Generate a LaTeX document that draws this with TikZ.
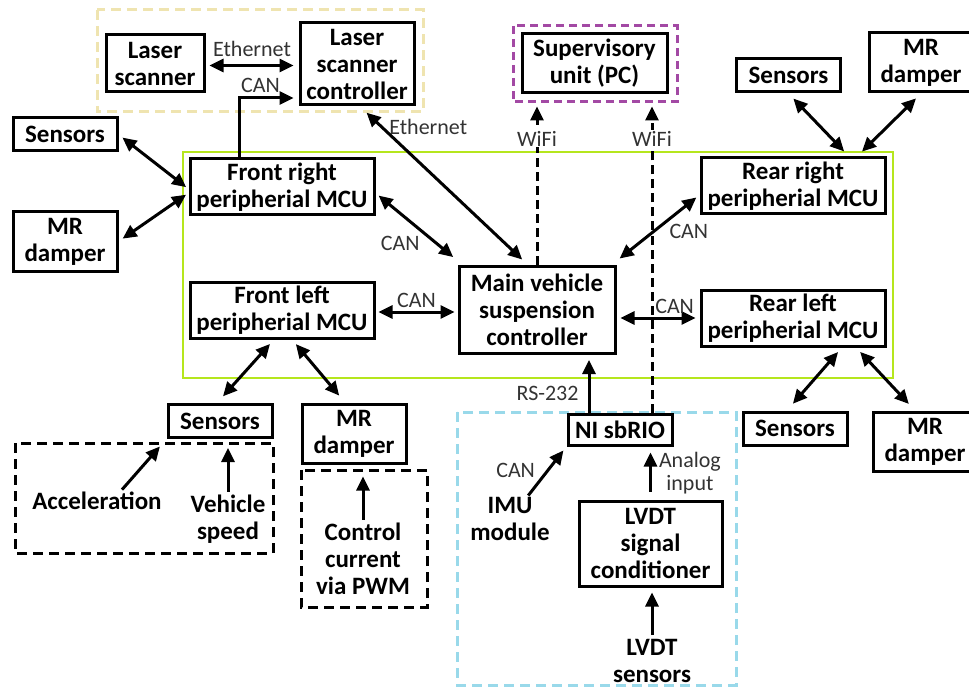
\documentclass[tikz,border=0pt]{standalone}
\usepackage{fontspec}
\setmainfont{Carlito}
\usetikzlibrary{arrows.meta,positioning}
\definecolor{sandline}{RGB}{239,228,176}
\definecolor{pcline}{RGB}{163,73,164}
\definecolor{limeline}{RGB}{181,230,29}
\definecolor{rioline}{RGB}{153,217,234}
\tikzset{
    unit/.style={draw,line width=3pt,fill=white,align=center,inner sep=0pt,font=\fontsize{25}{27}\selectfont\bfseries},
    mcu/.style={unit,minimum width=184pt,minimum height=56pt},
    small/.style={unit,minimum width=104pt,minimum height=33pt},
    damper/.style={unit,minimum width=104pt,minimum height=59pt},
    plain/.style={align=center,inner sep=0pt,font=\fontsize{25}{27}\selectfont\bfseries},
    lbl/.style={inner sep=1pt,align=center,text=black!80,font=\fontsize{22}{23}\selectfont},
    pre/.style={-{Triangle[length=14pt,width=13pt]},line width=3pt},
    bi/.style={{Triangle[length=14pt,width=13pt]}-{Triangle[length=14pt,width=13pt]},line width=3pt},
    wifi/.style={pre,dash pattern=on 9pt off 5pt},
    group/.style={line width=3pt,dash pattern=on 10pt off 6pt}
}

\begin{document}
\begin{tikzpicture}[x=1pt,y=-1pt]

                \useasboundingbox (0,0) rectangle (969,687);

                % groups
                \draw[limeline,line width=1.5pt] (183,152) rectangle (893,378);
                \draw[group,sandline] (97,10) rectangle (423,112);
                \draw[group,pcline,dash pattern=on 8pt off 5pt] (513,26) rectangle (677,102);
                \draw[group,rioline] (457,412) rectangle (736,685);
                \draw[group] (15,443) rectangle (273,553);
                \draw[group] (301,470) rectangle (427,607);

                % controllers
                \node[unit,minimum width=156pt,minimum height=87pt] (main) at (537,310) {Main vehicle\\suspension\\controller};
                \node[mcu] (fl) [left=82pt of main]             {Front left\\peripherial MCU};
                \node[mcu] (fr) [above=64pt of fl]              {Front right\\peripherial MCU};
                \node[mcu] (rl) [right=83pt of main, yshift=-8pt] {Rear left\\peripherial MCU};
                \node[mcu] (rr) [above=73pt of rl]              {Rear right\\peripherial MCU};

                \node[unit,minimum width=98pt,minimum height=57pt]  (ls)  at (155,63.5) {Laser\\scanner};
                \node[unit,minimum width=114pt,minimum height=82pt] (lsc) at (357,64)   {Laser\\scanner\\controller};
                \node[unit,minimum width=145pt,minimum height=59pt] (pc)  at (594.5,63.5) {Supervisory\\unit (PC)};

                % sensors and dampers
                \node[small]  (sensL)  at (65,134.5)  {Sensors};
                \node[damper] (mrL)    at (65,241.5)  {MR\\damper};
                \node[small]  (sensTR) at (788.5,75.5) {Sensors};
                \node[damper] (mrTR)   at (921,62.5)  {MR\\damper};
                \node[small]  (sensBL) at (220,421)   {Sensors};
                \node[damper] (mrBL)   at (354,433.5) {MR\\damper};
                \node[small]  (sensBR) at (795,428.5) {Sensors};
                \node[damper] (mrBR)   at (925,441.5) {MR\\damper};

                % measurement side
                \node[unit,minimum width=104pt,minimum height=31pt] (sbrio) at (620,429.5) {NI sbRIO};
                \node[unit,minimum width=143pt,minimum height=85pt] (lvdtc) at (650.5,543.5) {LVDT\\signal\\conditioner};
                \node[plain] (imu)    at (510,519)   {IMU\\module};
                \node[plain] (lvdts)  at (652,661)   {LVDT\\sensors};
                \node[plain] (acc)    at (97,501)    {Acceleration};
                \node[plain] (vspeed) at (228,519)   {Vehicle\\speed};
                \node[plain] (ctrl)   at (363,559)   {Control\\current\\via PWM};

                % laser scanner links
                \draw[bi,shorten <=4pt,shorten >=5pt] ([yshift=-2pt]ls.east) -- ([yshift=-2pt]ls.east -| lsc.west)
                    node[lbl,midway,above=6pt] {Ethernet};
                \draw[pre,shorten >=5pt] ([xshift=-43pt]fr.north) |- ([yshift=-34pt]lsc.west)
                    node[lbl,pos=.68,above=3pt] {CAN};
                \draw[bi,shorten <=8pt,shorten >=9pt] ([xshift=-9pt]main.north) -- ([xshift=3pt]lsc.south)
                    node[lbl,pos=.87,right=5pt] {Ethernet};

                % wheel corners
                \draw[bi,shorten <=5pt,shorten >=3pt] (sensL.east) -- ([yshift=-2pt]fr.west);
                \draw[bi,shorten <=5pt,shorten >=3pt] (mrL.east) -- ([yshift=-6pt]fr.west);
                \draw[bi,shorten <=7pt,shorten >=7pt] ([xshift=56pt]rr.north) -- (sensTR.south);
                \draw[bi,shorten <=7pt,shorten >=7pt] ([xshift=64pt]rr.north) -- (mrTR.south);
                \draw[bi,shorten <=6pt,shorten >=9pt] ([xshift=-8pt]fl.south) -- ([xshift=-3pt]sensBL.north);
                \draw[bi,shorten <=6pt,shorten >=9pt] ([xshift=10pt]fl.south) -- ([xshift=-9pt]mrBL.north);
                \draw[bi,shorten <=6pt,shorten >=9pt] ([xshift=49pt]rl.south) -- ([xshift=-8pt]sensBR.north);
                \draw[bi,shorten <=6pt,shorten >=9pt] ([xshift=63pt]rl.south) -- ([xshift=-10pt]mrBR.north);

                % CAN bus
                \draw[bi,shorten <=4pt,shorten >=3pt] ([yshift=-6pt]fr.east) -- ([xshift=-2pt,yshift=6pt]main.north west)
                    node[lbl,pos=.6,below left=2pt] {CAN};
                \draw[bi,shorten <=3pt,shorten >=3pt] ([yshift=-2pt]fl.east) -- ([yshift=-2pt]fl.east -| main.west)
                    node[lbl,midway,above=2pt] {CAN};
                \draw[bi,shorten <=4pt,shorten >=4pt] ([yshift=4pt]main.north east) -- ([yshift=-9pt]rr.west)
                    node[lbl,pos=.6,below right=1pt] {CAN};
                \draw[bi,shorten <=4pt,shorten >=4pt] (rl.west -| main.east) -- (rl.west)
                    node[lbl,pos=.7,above=2pt] {CAN};

                % supervisory links
                \draw[wifi,shorten >=12pt] (main.north) -- (main.north |- pc.south)
                    node[lbl,fill=white,pos=.74] {WiFi};
                \draw[wifi,shorten >=12pt] ([xshift=32pt]sbrio.north) -- ([xshift=32pt]sbrio.north |- pc.south)
                    node[lbl,fill=white,pos=.86] {WiFi};
                \draw[pre,shorten >=5pt] ([xshift=-31pt]sbrio.north) -- ([xshift=-31pt]sbrio.north |- main.south)
                    node[lbl,pos=.33,left=8pt] {RS-232};

                % measurement inputs
                \draw[pre,shorten <=2pt,shorten >=5pt] ([xshift=17pt]imu.north) -- (sbrio.south west)
                    node[lbl,pos=.3,above left=2pt] {CAN};
                \draw[pre,shorten <=8pt,shorten >=6pt] (lvdtc.north) -- (lvdtc.north |- sbrio.south)
                    node[lbl,midway,right=6pt] {Analog\\input};
                \draw[pre,shorten <=4pt,shorten >=5pt] (lvdts.north) -- (lvdts.north |- lvdtc.south);
                \draw[pre,shorten <=3pt,shorten >=10pt] ([xshift=23pt]acc.north) -- (sensBL.south west);
                \draw[pre,shorten <=3pt,shorten >=9pt] (vspeed.north) -- (vspeed.north |- sensBL.south);
                \draw[pre,shorten <=3pt,shorten >=12pt] (ctrl.north) -- (ctrl.north |- mrBL.south);

            \end{tikzpicture}
\end{document}
